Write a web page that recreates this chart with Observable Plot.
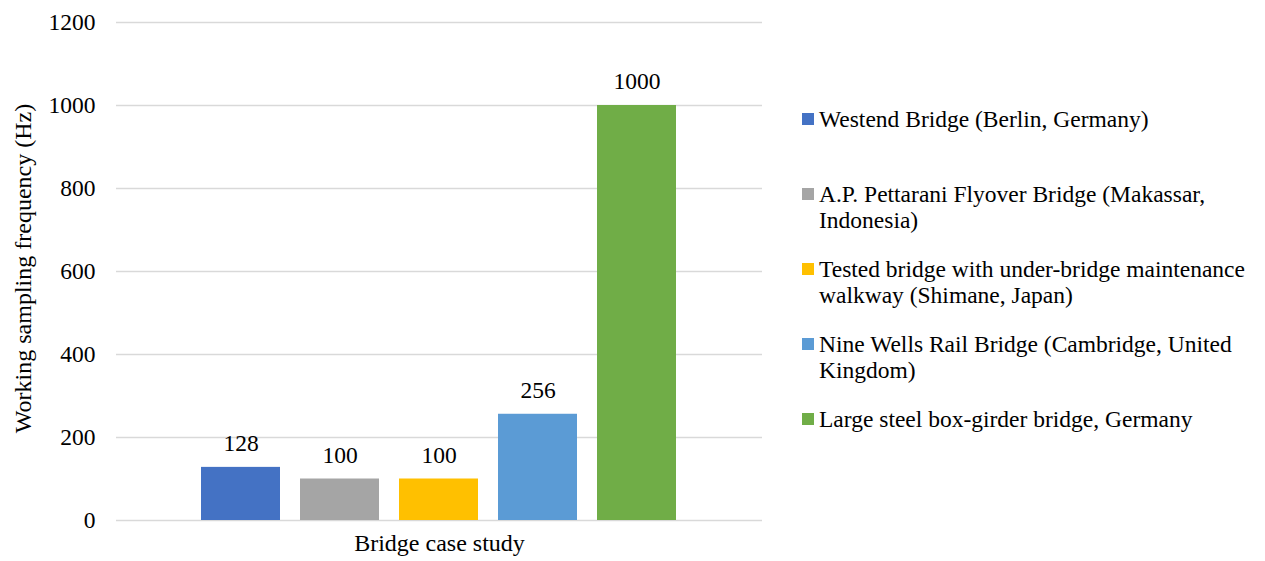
<!DOCTYPE html>
<html>
<head>
<meta charset="utf-8">
<script src="https://cdn.jsdelivr.net/npm/d3@7"></script>
<script src="https://cdn.jsdelivr.net/npm/@observablehq/plot@0.6"></script>
<style>
  html, body { margin: 0; padding: 0; background: #fff; }
  body { width: 1265px; height: 561px; position: relative; overflow: hidden;
         font-family: "Liberation Serif", "Times New Roman", serif; }
  #chart { position: absolute; left: 0; top: 0; }
  #legend { position: absolute; left: 802px; top: 106px; }
  .item { display: flex; align-items: flex-start; height: 75px; }
  .swatch { width: 12px; height: 12px; margin-top: 7px; margin-right: 5px; flex: none; }
  .label { font-size: 23.5px; line-height: 26px; color: #000; width: 445px; }
</style>
</head>
<body>
<div id="chart"></div>
<div id="legend"></div>
<script>
const bridges = [
  "Westend Bridge (Berlin, Germany)",
  "A.P. Pettarani Flyover Bridge (Makassar, Indonesia)",
  "Tested bridge with under-bridge maintenance walkway (Shimane, Japan)",
  "Nine Wells Rail Bridge (Cambridge, United Kingdom)",
  "Large steel box-girder bridge, Germany"
];
const frequencies = [128, 100, 100, 256, 1000];
const colors = ["#4472C4", "#A5A5A5", "#FFC000", "#5B9BD5", "#70AD47"];
const yTicks = [0, 200, 400, 600, 800, 1000, 1200];
const yTitle = "Working sampling frequency (Hz)";
const xTitle = "Bridge case study";

const data = bridges.map((name, i) => ({name, value: frequencies[i]}));
const font = "'Liberation Serif', 'Times New Roman', serif";

const chart = Plot.plot({
  width: 780,
  height: 561,
  marginLeft: 116,
  marginRight: 18,
  marginTop: 22,
  marginBottom: 41,
  style: {fontFamily: font, fontSize: "23.5px", color: "#000", background: "#fff"},
  x: {domain: bridges, paddingInner: 0.202, paddingOuter: 0.859, axis: null},
  y: {domain: [0, 1200], ticks: yTicks},
  color: {domain: bridges, range: colors},
  marks: [
    Plot.gridY(yTicks, {stroke: "#d9d9d9", strokeOpacity: 1, strokeWidth: 1.5}),
    Plot.barY(data, {x: "name", y: "value", fill: "name"}),
    Plot.axisY(yTicks, {tickSize: 0, tickPadding: 21, label: null, tickFormat: d => String(d), fontSize: 23.5, fill: "#000"}),
    Plot.text(data, {x: "name", y: "value", text: d => String(d.value), dy: -24, fontSize: 23.5, fill: "#000"}),
    Plot.text([yTitle], {frameAnchor: "left", textAnchor: "middle", rotate: -90, dx: -93, dy: -3, fontSize: 24, fill: "#000"}),
    Plot.text([xTitle], {frameAnchor: "bottom", textAnchor: "middle", dy: 30, fontSize: 24, fill: "#000"})
  ]
});
document.getElementById("chart").appendChild(chart);

const legend = document.getElementById("legend");
bridges.forEach((name, i) => {
  const item = document.createElement("div");
  item.className = "item";
  const sw = document.createElement("div");
  sw.className = "swatch";
  sw.style.background = colors[i];
  const lab = document.createElement("div");
  lab.className = "label";
  lab.textContent = name;
  item.appendChild(sw);
  item.appendChild(lab);
  legend.appendChild(item);
});
</script>
</body>
</html>
